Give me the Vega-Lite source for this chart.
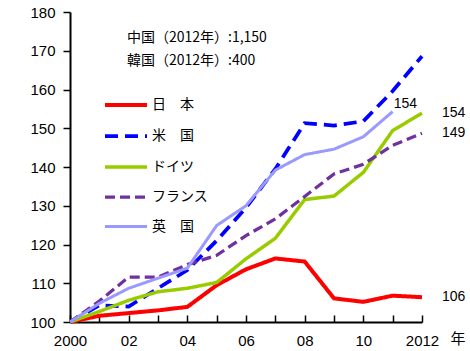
{
  "$schema": "https://vega.github.io/schema/vega-lite/v6.json",
  "width": 352,
  "height": 310,
  "autosize": {"type": "none"},
  "padding": {"left": 70, "top": 12, "right": 48, "bottom": 29},
  "background": "white",
  "config": {
    "view": {"stroke": null},
    "font": "Liberation Sans"
  },
  "datasets": {
    "main": [
      {"series": "日　本", "year": 2000, "value": 100},
      {"series": "日　本", "year": 2001, "value": 101.6},
      {"series": "日　本", "year": 2002, "value": 102.3},
      {"series": "日　本", "year": 2003, "value": 103},
      {"series": "日　本", "year": 2004, "value": 103.9},
      {"series": "日　本", "year": 2005, "value": 109.5},
      {"series": "日　本", "year": 2006, "value": 113.6},
      {"series": "日　本", "year": 2007, "value": 116.4},
      {"series": "日　本", "year": 2008, "value": 115.6},
      {"series": "日　本", "year": 2009, "value": 106.1},
      {"series": "日　本", "year": 2010, "value": 105.2},
      {"series": "日　本", "year": 2011, "value": 106.8},
      {"series": "日　本", "year": 2012, "value": 106.4},
      {"series": "米　国", "year": 2000, "value": 100},
      {"series": "米　国", "year": 2001, "value": 104.3},
      {"series": "米　国", "year": 2002, "value": 104},
      {"series": "米　国", "year": 2003, "value": 108.7},
      {"series": "米　国", "year": 2004, "value": 113.4},
      {"series": "米　国", "year": 2005, "value": 121},
      {"series": "米　国", "year": 2006, "value": 129.5},
      {"series": "米　国", "year": 2007, "value": 139.5},
      {"series": "米　国", "year": 2008, "value": 151.3},
      {"series": "米　国", "year": 2009, "value": 150.7},
      {"series": "米　国", "year": 2010, "value": 151.8},
      {"series": "米　国", "year": 2011, "value": 159.6},
      {"series": "米　国", "year": 2012, "value": 168.6},
      {"series": "ドイツ", "year": 2000, "value": 100},
      {"series": "ドイツ", "year": 2001, "value": 102.7},
      {"series": "ドイツ", "year": 2002, "value": 105.6},
      {"series": "ドイツ", "year": 2003, "value": 107.8},
      {"series": "ドイツ", "year": 2004, "value": 108.7},
      {"series": "ドイツ", "year": 2005, "value": 110.2},
      {"series": "ドイツ", "year": 2006, "value": 116.3},
      {"series": "ドイツ", "year": 2007, "value": 121.6},
      {"series": "ドイツ", "year": 2008, "value": 131.6},
      {"series": "ドイツ", "year": 2009, "value": 132.5},
      {"series": "ドイツ", "year": 2010, "value": 138.6},
      {"series": "ドイツ", "year": 2011, "value": 149.4},
      {"series": "ドイツ", "year": 2012, "value": 153.9},
      {"series": "フランス", "year": 2000, "value": 100},
      {"series": "フランス", "year": 2001, "value": 105.4},
      {"series": "フランス", "year": 2002, "value": 111.6},
      {"series": "フランス", "year": 2003, "value": 111.6},
      {"series": "フランス", "year": 2004, "value": 114.8},
      {"series": "フランス", "year": 2005, "value": 117.2},
      {"series": "フランス", "year": 2006, "value": 122.3},
      {"series": "フランス", "year": 2007, "value": 126.6},
      {"series": "フランス", "year": 2008, "value": 132.4},
      {"series": "フランス", "year": 2009, "value": 138.2},
      {"series": "フランス", "year": 2010, "value": 140.7},
      {"series": "フランス", "year": 2011, "value": 145.6},
      {"series": "フランス", "year": 2012, "value": 148.7},
      {"series": "英　国", "year": 2000, "value": 100},
      {"series": "英　国", "year": 2001, "value": 104.8},
      {"series": "英　国", "year": 2002, "value": 108.7},
      {"series": "英　国", "year": 2003, "value": 111.3},
      {"series": "英　国", "year": 2004, "value": 113.9},
      {"series": "英　国", "year": 2005, "value": 124.9},
      {"series": "英　国", "year": 2006, "value": 130},
      {"series": "英　国", "year": 2007, "value": 139.2},
      {"series": "英　国", "year": 2008, "value": 143.2},
      {"series": "英　国", "year": 2009, "value": 144.6},
      {"series": "英　国", "year": 2010, "value": 147.8},
      {"series": "英　国", "year": 2011, "value": 154.3}
    ],
    "notes": [
      {"year": 2001.94, "value": 173.3, "text": "中国（2012年）:1,150"},
      {"year": 2001.94, "value": 167.3, "text": "韓国（2012年）:400"}
    ]
  },
  "encoding": {
    "x": {
      "field": "year", "type": "quantitative",
      "scale": {"domain": [2000, 2012], "nice": false, "zero": false},
      "axis": {
        "values": [2000, 2001, 2002, 2003, 2004, 2005, 2006, 2007, 2008, 2009, 2010, 2011, 2012],
        "format": "d",
        "labelExpr": "datum.value == 2000 || datum.value == 2012 ? '' + datum.value : (datum.value % 2 == 0 ? slice('' + datum.value, 2) : '')",
        "grid": false, "domainColor": "black", "domainWidth": 2,
        "tickColor": "black", "tickWidth": 1.5, "tickSize": -7,
        "labelFont": "Liberation Sans", "labelFontSize": 15, "labelColor": "black",
        "labelPadding": 18, "labelOverlap": false, "labelFlush": false,
        "title": "年", "titleFont": "Noto Sans CJK JP", "titleFontSize": 15, "titleFontWeight": "normal",
        "titleColor": "black", "titleX": 380, "titleY": 16, "titleAlign": "left", "titleBaseline": "middle", "titleAngle": 0
      }
    },
    "y": {
      "field": "value", "type": "quantitative",
      "scale": {"domain": [100, 180], "nice": false, "zero": false},
      "axis": {
        "values": [100, 110, 120, 130, 140, 150, 160, 170, 180],
        "grid": false, "domainColor": "black", "domainWidth": 2,
        "tickColor": "black", "tickWidth": 1.5, "tickSize": 7,
        "labelFont": "Liberation Sans", "labelFontSize": 15, "labelColor": "black",
        "labelPadding": 8, "title": null, "labelFlush": false, "labelOverlap": false
      }
    }
  },
  "layer": [
    {
      "data": {"name": "main"},
      "mark": {"type": "line", "strokeJoin": "miter"},
      "encoding": {
        "color": {
          "field": "series", "type": "nominal",
          "scale": {"domain": ["日　本", "米　国", "ドイツ", "フランス", "英　国"],
                    "range": ["#FF0000", "#0000FF", "#99CC00", "#7030A0", "#9999FF"]},
          "legend": {
            "title": null, "orient": "none", "legendX": 33, "legendY": 70,
            "symbolType": "stroke", "symbolSize": 1764, "symbolStrokeWidth": 4,
            "labelFont": "Noto Sans CJK JP", "labelFontSize": 14, "labelColor": "black",
            "rowPadding": -6, "labelOffset": 3, "padding": 0
          }
        },
        "strokeDash": {
          "field": "series", "type": "nominal",
          "scale": {"domain": ["日　本", "米　国", "ドイツ", "フランス", "英　国"],
                    "range": [[1, 0], [13, 7], [1, 0], [10, 5], [1, 0]]},
          "legend": {
            "title": null, "orient": "none", "legendX": 33, "legendY": 70,
            "symbolType": "stroke", "symbolSize": 1764, "symbolStrokeWidth": 4,
            "labelFont": "Noto Sans CJK JP", "labelFontSize": 14, "labelColor": "black",
            "rowPadding": -6, "labelOffset": 3, "padding": 0
          }
        },
        "strokeWidth": {
          "field": "series", "type": "nominal",
          "scale": {"domain": ["日　本", "米　国", "ドイツ", "フランス", "英　国"],
                    "range": [4, 3, 4, 4, 4]},
          "legend": {
            "title": null, "orient": "none", "legendX": 33, "legendY": 70,
            "symbolType": "stroke", "symbolSize": 1764,
            "labelFont": "Noto Sans CJK JP", "labelFontSize": 14, "labelColor": "black",
            "rowPadding": -6, "labelOffset": 3, "padding": 0
          }
        }
      }
    },
    {
      "data": {"name": "main"},
      "transform": [{"filter": "datum.year == 2012 && datum.series != '米　国'"}],
      "mark": {"type": "text", "align": "left", "baseline": "middle", "dx": 20, "font": "Liberation Sans", "fontSize": 14, "color": "black"},
      "encoding": {
        "text": {"field": "value", "type": "quantitative", "format": ".0f"}
      }
    },
    {
      "data": {"name": "main"},
      "transform": [{"filter": "datum.year == 2011 && datum.series == '英　国'"}],
      "mark": {"type": "text", "align": "left", "baseline": "middle", "dx": 1, "dy": -8, "font": "Liberation Sans", "fontSize": 14, "color": "black"},
      "encoding": {
        "text": {"field": "value", "type": "quantitative", "format": ".0f"}
      }
    },
    {
      "data": {"name": "notes"},
      "mark": {"type": "text", "align": "left", "baseline": "middle", "font": "Noto Sans CJK JP", "fontSize": 14, "color": "black"},
      "encoding": {
        "text": {"field": "text", "type": "nominal"}
      }
    }
  ]
}
